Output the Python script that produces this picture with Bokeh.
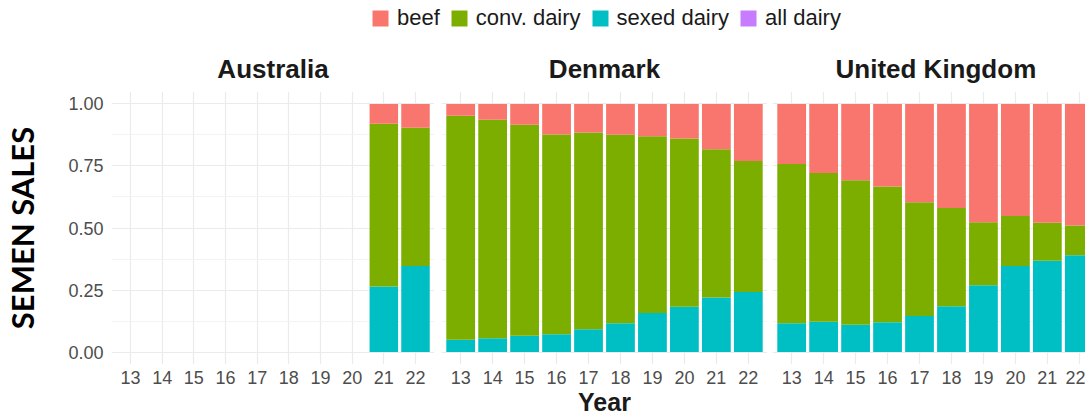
from bokeh.plotting import figure
from bokeh.models import (Range1d, FixedTicker, Legend, LegendItem,
                          ColumnDataSource, Grid)
from bokeh.layouts import column, row
from bokeh.embed import file_html
from bokeh.resources import INLINE

# ---------------- data ----------------
years = [13, 14, 15, 16, 17, 18, 19, 20, 21, 22]
year_labels = ["13", "14", "15", "16", "17", "18", "19", "20", "21", "22"]
y_ticks = [0.0, 0.25, 0.5, 0.75, 1.0]
y_tick_labels = ["0.00", "0.25", "0.50", "0.75", "1.00"]
series = ["beef", "conv. dairy", "sexed dairy", "all dairy"]
colors = ["#F8766D", "#7CAE00", "#00BFC4", "#C77CFF"]
countries = ["Australia", "Denmark", "United Kingdom"]

aus_years = [21, 22]
aus_sexed = [0.264, 0.347]
aus_conv = [0.656, 0.557]
aus_beef = [0.080, 0.096]

dk_years = [13, 14, 15, 16, 17, 18, 19, 20, 21, 22]
dk_sexed = [0.050, 0.056, 0.066, 0.072, 0.092, 0.116, 0.158, 0.183, 0.220, 0.242]
dk_conv = [0.902, 0.880, 0.850, 0.805, 0.793, 0.760, 0.712, 0.678, 0.597, 0.528]
dk_beef = [0.048, 0.064, 0.084, 0.123, 0.115, 0.124, 0.130, 0.139, 0.183, 0.230]

uk_years = [13, 14, 15, 16, 17, 18, 19, 20, 21, 22]
uk_sexed = [0.116, 0.122, 0.110, 0.120, 0.145, 0.185, 0.269, 0.347, 0.368, 0.390]
uk_conv = [0.642, 0.600, 0.582, 0.547, 0.459, 0.396, 0.254, 0.201, 0.153, 0.120]
uk_beef = [0.242, 0.278, 0.308, 0.333, 0.396, 0.419, 0.477, 0.452, 0.479, 0.490]

x_title = "Year"
y_title = "SEMEN SALES"

FONT = "Liberation Sans"
GRID_MAJOR = "#EBEBEB"
GRID_MINOR = "#F3F3F3"


def make_panel(name, yrs, sexed, conv, beef, width, left_border, x_end,
               show_y=False, xlabel=None, title_offset=None):
    p = figure(width=width, height=374,
               x_range=Range1d(12.4, x_end), y_range=Range1d(-0.05, 1.05),
               output_backend="svg", toolbar_location=None,
               min_border_left=left_border, min_border_right=0,
               min_border_top=46, min_border_bottom=53,
               y_axis_location="left" if show_y else None,
               outline_line_color=None, background_fill_color="white",
               border_fill_color="white")
    s_top = list(sexed)
    c_top = [s + c for s, c in zip(sexed, conv)]
    b_top = [s + c + b for s, c, b in zip(sexed, conv, beef)]
    src = ColumnDataSource(dict(x=yrs, zero=[0.0] * len(yrs),
                                s_top=s_top, c_top=c_top, b_top=b_top))
    p.vbar(x="x", bottom="zero", top="s_top", width=0.9, source=src,
           fill_color=colors[2], line_color=None)
    p.vbar(x="x", bottom="s_top", top="c_top", width=0.9, source=src,
           fill_color=colors[1], line_color=None)
    p.vbar(x="x", bottom="c_top", top="b_top", width=0.9, source=src,
           fill_color=colors[0], line_color=None)

    # grids
    xt = FixedTicker(ticks=years)
    yt = FixedTicker(ticks=y_ticks, minor_ticks=[0.125, 0.375, 0.625, 0.875])
    p.center = [c for c in p.center if not isinstance(c, Grid)]
    gx = Grid(dimension=0, ticker=xt, grid_line_color=GRID_MAJOR,
              grid_line_width=1.2, level="underlay")
    gy = Grid(dimension=1, ticker=yt, grid_line_color=GRID_MAJOR,
              grid_line_width=1.2, minor_grid_line_color=GRID_MINOR,
              minor_grid_line_width=1, level="underlay")
    p.add_layout(gx, "center")
    p.add_layout(gy, "center")

    # x axis
    ax = p.xaxis[0]
    ax.ticker = FixedTicker(ticks=years)
    ax.major_label_overrides = {y: l for y, l in zip(years, year_labels)}
    ax.axis_line_color = None
    ax.major_tick_line_color = None
    ax.minor_tick_line_color = None
    ax.major_tick_out = 0
    ax.major_tick_in = 0
    ax.major_label_standoff = 6
    ax.major_label_text_font = FONT
    ax.major_label_text_font_size = "18px"
    ax.major_label_text_color = "#4D4D4D"
    if xlabel:
        ax.axis_label = xlabel
        ax.axis_label_text_font = FONT
        ax.axis_label_text_font_style = "bold"
        ax.axis_label_text_font_size = "25px"
        ax.axis_label_text_color = "#1A1A1A"
        ax.axis_label_standoff = 1

    if show_y:
        ay = p.yaxis[0]
        ay.ticker = FixedTicker(ticks=y_ticks)
        ay.major_label_overrides = {t: l for t, l in zip(y_ticks, y_tick_labels)}
        ay.axis_line_color = None
        ay.major_tick_line_color = None
        ay.minor_tick_line_color = None
        ay.major_tick_out = 0
        ay.major_tick_in = 0
        ay.major_label_standoff = 8
        ay.major_label_text_font = FONT
        ay.major_label_text_font_size = "18px"
        ay.major_label_text_color = "#4D4D4D"
        ay.axis_label = y_title
        ay.axis_label_text_font = "Lato"
        ay.axis_label_text_font_style = "bold"
        ay.axis_label_text_font_size = "31px"
        ay.axis_label_text_color = "black"
        ay.axis_label_standoff = 24

    p.title.text = name
    p.title.text_font = FONT
    p.title.text_font_style = "bold"
    p.title.text_font_size = "26px"
    p.title.text_color = "#1A1A1A"
    p.title.standoff = 15
    if title_offset is None:
        p.title.align = "center"
    else:
        p.title.align = "left"
        p.title.offset = title_offset
    return p


p_aus = make_panel(countries[0], aus_years, aus_sexed, aus_conv, aus_beef,
                   width=434, left_border=108, x_end=22.6, show_y=True)
p_dk = make_panel(countries[1], dk_years, dk_sexed, dk_conv, dk_beef,
                  width=333, left_border=7, x_end=22.6, xlabel=x_title)
p_uk = make_panel(countries[2], uk_years, uk_sexed, uk_conv, uk_beef,
                  width=318, left_border=5, x_end=12.4 + 313 / 31.96,
                  title_offset=63)

# ---------------- legend strip ----------------
pl = figure(width=1085, height=44, x_range=Range1d(0, 1), y_range=Range1d(0, 1),
            output_backend="svg", toolbar_location=None,
            x_axis_location=None, y_axis_location=None,
            min_border_left=365, min_border_right=0, min_border_top=0,
            min_border_bottom=0, outline_line_color=None)
pl.grid.visible = False
items = []
for name, col in zip(series, colors):
    r = pl.vbar(x=[5.0], top=[1.0], width=0.1, fill_color=col, line_color=None)
    items.append(LegendItem(label=name, renderers=[r]))
leg = Legend(items=items, orientation="horizontal", location="top_left",
             glyph_width=20, glyph_height=20, label_standoff=7, spacing=9,
             padding=0, margin=5, border_line_color=None,
             background_fill_alpha=0, label_text_font=FONT,
             label_text_font_size="22px", label_text_color="#1A1A1A")
pl.add_layout(leg, "center")

layout = column(pl, row(p_aus, p_dk, p_uk))
open("out.html", "w").write(file_html(layout, INLINE))
